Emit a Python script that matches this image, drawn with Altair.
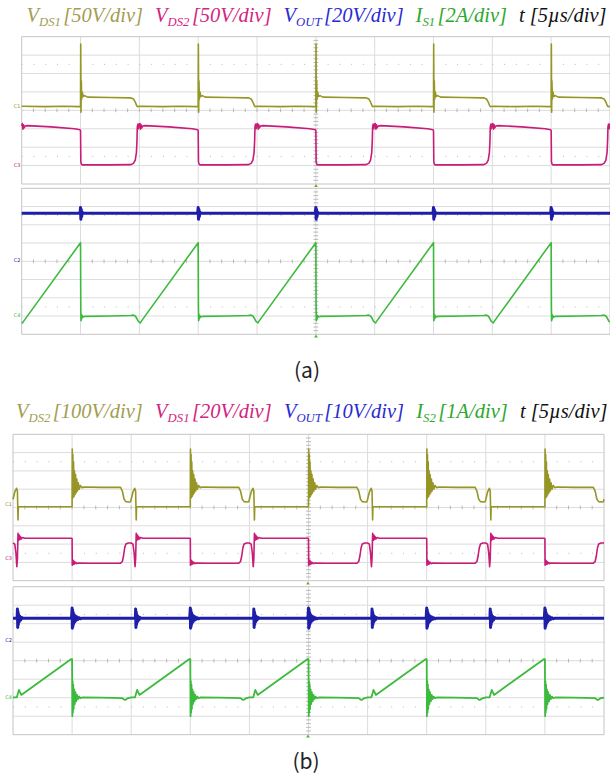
import altair as alt
import pandas as pd

W, H = 610, 781

# ---------------- colours ----------------
OLIVE = "#969626"
MAGENTA = "#c81c78"
BLUE = "#1e1ea8"
GREEN = "#3cba3c"
T_OLIVE = "#a29d52"
T_MAGENTA = "#d2257f"
T_BLUE = "#2a2ad2"
T_GREEN = "#2da82d"
T_BLACK = "#111111"
GRID = "#dcdcdc"
EDGE = "#c4c4c4"
DOTS = "#b8b8b8"

# ---------------- titles / captions ----------------
TITLE_A = [("V", "DS1", "[50V/div]", T_OLIVE), ("V", "DS2", "[50V/div]", T_MAGENTA),
           ("V", "OUT", "[20V/div]", T_BLUE), ("I", "S1", "[2A/div]", T_GREEN),
           ("t", "", "[5µs/div]", T_BLACK)]
TITLE_B = [("V", "DS2", "[100V/div]", T_OLIVE), ("V", "DS1", "[20V/div]", T_MAGENTA),
           ("V", "OUT", "[10V/div]", T_BLUE), ("I", "S2", "[1A/div]", T_GREEN),
           ("t", "", "[5µs/div]", T_BLACK)]
CAPTIONS = ["(a)", "(b)"]

# ---------------- scope grid ----------------
GRID_T = list(range(11))      # 10 time divisions (5 µs/div)
GRID_V = list(range(9))       # 8 vertical divisions
DOT_ROWS = [1.5, 6.5]

# ---------------- waveforms (divisions) ----------------
# switching instants (div) at which the upper trace rises
A_EDGES = [1, 3, 5, 7, 9]
B_EDGES = [1, 3, 5, 7, 9]

# (a) V_DS1, relative time to edge / level in div
A_VDS1_REL = [-1.0, -0.6, -0.3, -0.02, 0.0, 0.003, 0.008, 0.013, 0.02, 0.03, 0.045, 0.07, 0.12,
              0.5, 0.85, 0.9, 0.93, 0.955, 0.97, 1.0]
A_VDS1_VAL = [4.22, 4.2, 4.22, 4.2, 4.2, 7.6, 3.9, 5.6, 4.6, 5.0, 4.75, 4.8, 4.72,
              4.7, 4.68, 4.62, 4.45, 4.25, 4.2, 4.22]
# (a) V_DS2
A_VDS2_REL = [-1.0, -0.99, -0.98, -0.97, -0.96, -0.94, -0.9, -0.5, -0.1, -0.01, 0.0, 0.005, 0.015,
              0.03, 0.5, 0.85, 0.9, 0.93, 0.95, 0.96, 0.965, 0.975, 0.985, 0.995, 1.0]
A_VDS2_VAL = [3.15, 3.28, 2.98, 3.22, 3.05, 3.15, 3.17, 3.1, 3.0, 2.95, 2.9, 1.2, 1.08,
              1.04, 1.04, 1.05, 1.12, 1.3, 1.7, 2.4, 3.1, 3.25, 3.0, 3.25, 3.15]
# (a) V_OUT
A_VOUT_REL = [-1.0, -0.01, 0.0, 0.005, 0.012, 0.02, 0.03, 0.045, 1.0]
A_VOUT_VAL = [6.63, 6.63, 6.95, 6.3, 6.85, 6.45, 6.7, 6.63, 6.63]
# (a) I_S1
A_IS1_REL = [-1.0, -0.985, -0.975, 0.0, 0.004, 0.008, 0.014, 0.02, 0.03, 0.045, 0.07,
             0.5, 0.85, 0.9, 0.93, 0.96, 0.98, 1.0]
A_IS1_VAL = [0.66, 0.62, 0.68, 5.02, 1.5, 0.75, 1.1, 0.85, 1.02, 0.95, 0.98,
             1.0, 1.03, 1.05, 1.0, 0.85, 0.72, 0.66]

# (b) V_DS2
B_VDS2_REL = [-1.0, -0.97, -0.94, -0.925, -0.915, -0.91, -0.5, -0.01, 0.0, 0.003, 0.008, 0.013,
              0.018, 0.025, 0.032, 0.04, 0.048, 0.058, 0.068, 0.08, 0.092, 0.105, 0.12, 0.14,
              0.17, 0.2, 0.5, 0.82, 0.85, 0.88, 0.91, 0.97, 0.99, 1.0]
B_VDS2_VAL = [4.45, 4.85, 5.05, 4.9, 3.32, 4.04, 4.04, 4.04, 4.04, 7.2, 4.5, 6.9,
              4.55, 6.5, 4.6, 6.0, 4.7, 5.8, 4.8, 5.55, 4.9, 5.35, 5.0, 5.2,
              5.08, 5.12, 5.1, 5.1, 4.9, 4.45, 4.32, 4.3, 4.32, 4.45]
# (b) V_DS1
B_VDS1_REL = [-1.0, -0.97, -0.95, -0.935, -0.925, -0.915, -0.905, -0.895, -0.885, -0.875, -0.86,
              -0.84, -0.8, -0.3, -0.01, 0.0, 0.003, 0.008, 0.013, 0.02, 0.028, 0.036, 0.045,
              0.06, 0.08, 0.1, 0.3, 0.82, 0.85, 0.87, 0.89, 0.91, 0.95, 1.0]
B_VDS1_VAL = [2.06, 2.0, 1.5, 0.77, 1.2, 2.59, 2.2, 2.5, 2.25, 2.42, 2.28,
              2.36, 2.32, 2.32, 2.32, 2.3, 0.85, 1.15, 0.88, 1.1, 0.9, 1.05, 0.92,
              1.0, 0.93, 0.97, 0.95, 0.96, 1.05, 1.35, 1.8, 2.0, 2.06, 2.06]
# (b) V_OUT
B_VOUT_REL = [-1.0, -0.93, -0.925, -0.92, -0.915, -0.91, -0.905, -0.895, -0.885, -0.87, -0.85,
              -0.83, -0.01, 0.0, 0.004, 0.009, 0.014, 0.02, 0.027, 0.035, 0.045, 0.056, 0.07,
              0.085, 0.1, 0.12, 0.14, 0.16, 1.0]
B_VOUT_VAL = [6.29, 6.29, 6.8, 5.8, 6.65, 5.95, 6.5, 6.1, 6.4, 6.2, 6.33,
              6.29, 6.29, 6.85, 5.75, 6.75, 5.85, 6.6, 6.0, 6.5, 6.1, 6.42, 6.18,
              6.36, 6.24, 6.32, 6.27, 6.29, 6.29]
# (b) I_S2
B_IS2_REL = [-1.0, -0.935, -0.9, -0.86, -0.02, 0.0, 0.004, 0.009, 0.014, 0.02, 0.027, 0.035,
             0.045, 0.056, 0.07, 0.085, 0.1, 0.12, 0.14, 0.17, 0.5, 0.85, 0.88, 0.9, 0.94, 1.0]
B_IS2_VAL = [2.02, 2.02, 2.42, 2.15, 4.08, 4.08, 1.0, 2.9, 1.2, 2.7, 1.4, 2.45,
             1.65, 2.3, 1.8, 2.15, 1.92, 2.06, 1.98, 2.01, 2.0, 1.98, 1.9, 1.88, 1.97, 2.0]

# ---------------- layout (pixels) ----------------
A_X = (21.7, 610.0)
B_X = (13.0, 604.0)
A_TOP = (36.7, 184.0)
A_BOT = (188.3, 334.3)
B_TOP = (434.3, 580.7)
B_BOT = (586.7, 734.7)

SERIF = "Liberation Serif, Times New Roman, DejaVu Serif, serif"


def xscale(px):
    x0, x1 = px
    span = 10 * W / (x1 - x0)
    lo = -span * x0 / W
    return alt.Scale(domain=[lo, lo + span], nice=False, zero=False)


def yscale(py):
    top, bot = py
    span = 8 * H / (bot - top)
    lo = -span * (H - bot) / H
    return alt.Scale(domain=[lo, lo + span], nice=False, zero=False)


def grid_layers(px, py):
    xs, ys = xscale(px), yscale(py)
    divpx = (px[1] - px[0]) / 10

    def X(f):
        return alt.X(f, scale=xs, axis=None)

    def Y(f):
        return alt.Y(f, scale=ys, axis=None)

    inner_t = [t for t in GRID_T if 0 < t < 10]
    inner_v = [v for v in GRID_V if 0 < v < 8]
    out = []
    out.append(alt.Chart(pd.DataFrame({"t": inner_t, "a": 0, "b": 8})).mark_rule(
        color=GRID, strokeWidth=1).encode(x=X("t:Q"), y=Y("a:Q"), y2="b:Q"))
    out.append(alt.Chart(pd.DataFrame({"v": inner_v, "a": 0, "b": 10})).mark_rule(
        color=GRID, strokeWidth=1).encode(y=Y("v:Q"), x=X("a:Q"), x2="b:Q"))
    out.append(alt.Chart(pd.DataFrame({"v": DOT_ROWS, "a": 0, "b": 10})).mark_rule(
        color=DOTS, strokeWidth=1, strokeDash=[1, 0.2 * divpx - 1]).encode(
        y=Y("v:Q"), x=X("a:Q"), x2="b:Q"))
    ht = [round(i * 0.2, 2) for i in range(1, 50)]
    out.append(alt.Chart(pd.DataFrame({"t": ht, "a": 3.9, "b": 4.1})).mark_rule(
        color=DOTS, strokeWidth=1).encode(x=X("t:Q"), y=Y("a:Q"), y2="b:Q"))
    vt = [round(i * 0.2, 2) for i in range(1, 40)]
    out.append(alt.Chart(pd.DataFrame({"v": vt, "a": 4.96, "b": 5.04})).mark_rule(
        color=DOTS, strokeWidth=1).encode(y=Y("v:Q"), x=X("a:Q"), x2="b:Q"))
    out.append(alt.Chart(pd.DataFrame({"t": [0, 10], "a": 0, "b": 8})).mark_rule(
        color=EDGE, strokeWidth=1).encode(x=X("t:Q"), y=Y("a:Q"), y2="b:Q"))
    out.append(alt.Chart(pd.DataFrame({"v": [0, 8], "a": 0, "b": 10})).mark_rule(
        color=EDGE, strokeWidth=1).encode(y=Y("v:Q"), x=X("a:Q"), x2="b:Q"))
    return out


def build(edges, rel, val):
    rows = []
    for k, e in enumerate(edges):
        for r, v in zip(rel, val):
            if r >= 1.0 and k < len(edges) - 1:
                continue
            rows.append({"t": e + r, "v": v})
    df = pd.DataFrame(rows)
    df["i"] = range(len(df))
    return df


def trace(px, py, edges, rel, val, color, sw):
    return alt.Chart(build(edges, rel, val)).mark_line(
        color=color, strokeWidth=sw, strokeJoin="round").encode(
        x=alt.X("t:Q", scale=xscale(px), axis=None),
        y=alt.Y("v:Q", scale=yscale(py), axis=None),
        order=alt.Order("i:Q"))


# ---------------- text ----------------
TW = {' ': 250, '[': 389, ']': 389, '/': 278, '0': 500, '1': 500, '2': 500, '5': 500,
      'A': 611, 'D': 722, 'I': 333, 'O': 722, 'S': 500, 'T': 556, 'U': 722, 'V': 611,
      'd': 500, 'i': 278, 's': 389, 't': 278, 'v': 444, 'µ': 500}


def tw(s, f):
    return sum(TW[c] for c in s) * f / 1000.0


def title_rows(pieces, x_start, x_end, base, F):
    fs = F * 0.62
    widths = []
    for main, sub, br, col in pieces:
        w = tw(main, F) + ((tw(sub, fs) + 0.12 * F) if sub else 0.25 * F) + tw(br, F)
        widths.append(w)
    gap = (x_end - x_start - sum(widths)) / (len(pieces) - 1)
    rows = []
    x = x_start
    for (main, sub, br, col), w in zip(pieces, widths):
        rows.append(dict(px=x, py=base, text=main, color=col, size=F))
        xx = x + tw(main, F)
        if sub:
            rows.append(dict(px=xx, py=base + 4.3, text=sub, color=col, size=fs))
            xx += tw(sub, fs) + 0.12 * F
        else:
            xx += 0.25 * F
        rows.append(dict(px=xx, py=base, text=br, color=col, size=F))
        x += w + gap
    return rows


PXS = alt.Scale(domain=[0, W], nice=False, zero=False)
PYS = alt.Scale(domain=[0, H], reverse=True, nice=False, zero=False)

title_df = pd.DataFrame(title_rows(TITLE_A, 26.5, 605, 21.5, 20.5) +
                        title_rows(TITLE_B, 16, 606, 418, 20.5))
titles = alt.Chart(title_df).mark_text(
    font=SERIF, fontStyle="italic", align="left", baseline="alphabetic").encode(
    x=alt.X("px:Q", scale=PXS, axis=None), y=alt.Y("py:Q", scale=PYS, axis=None),
    text="text:N", color=alt.Color("color:N", scale=None), size=alt.Size("size:Q", scale=None))

cap_df = pd.DataFrame({"px": [307, 306], "py": [372, 763], "text": CAPTIONS})
captions = alt.Chart(cap_df).mark_text(
    font="Noto Sans CJK JP", fontSize=21, align="center", baseline="middle", color="#222222").encode(
    x=alt.X("px:Q", scale=PXS, axis=None), y=alt.Y("py:Q", scale=PYS, axis=None), text="text:N")

ch_df = pd.DataFrame({
    "px": [17, 17, 17, 17, 8.5, 8.5, 8.5, 8.5],
    "py": [106, 165, 260, 315, 504, 558, 640, 697],
    "text": ["C1", "C3", "C2", "C4", "C1", "C3", "C2", "C4"],
    "color": [OLIVE, MAGENTA, BLUE, GREEN, OLIVE, MAGENTA, BLUE, GREEN]})
chans = alt.Chart(ch_df).mark_text(fontSize=5, align="center", baseline="middle", font="DejaVu Sans").encode(
    x=alt.X("px:Q", scale=PXS, axis=None), y=alt.Y("py:Q", scale=PYS, axis=None),
    text="text:N", color=alt.Color("color:N", scale=None))

trig_df = pd.DataFrame({"px": [316, 316, 308, 308], "py": [185.5, 336, 583, 736],
                        "color": [OLIVE, GREEN, OLIVE, GREEN]})
trig = alt.Chart(trig_df).mark_point(shape="triangle-up", filled=True, size=14, opacity=1).encode(
    x=alt.X("px:Q", scale=PXS, axis=None), y=alt.Y("py:Q", scale=PYS, axis=None),
    color=alt.Color("color:N", scale=None))

layers = []
layers += grid_layers(A_X, A_TOP)
layers += grid_layers(A_X, A_BOT)
layers += grid_layers(B_X, B_TOP)
layers += grid_layers(B_X, B_BOT)
layers += [
    trace(A_X, A_TOP, A_EDGES, A_VDS2_REL, A_VDS2_VAL, MAGENTA, 1.6),
    trace(A_X, A_TOP, A_EDGES, A_VDS1_REL, A_VDS1_VAL, OLIVE, 1.6),
    trace(A_X, A_BOT, A_EDGES, A_VOUT_REL, A_VOUT_VAL, BLUE, 3.0),
    trace(A_X, A_BOT, A_EDGES, A_IS1_REL, A_IS1_VAL, GREEN, 1.6),
    trace(B_X, B_TOP, B_EDGES, B_VDS1_REL, B_VDS1_VAL, MAGENTA, 1.6),
    trace(B_X, B_TOP, B_EDGES, B_VDS2_REL, B_VDS2_VAL, OLIVE, 1.6),
    trace(B_X, B_BOT, B_EDGES, B_VOUT_REL, B_VOUT_VAL, BLUE, 3.0),
    trace(B_X, B_BOT, B_EDGES, B_IS2_REL, B_IS2_VAL, GREEN, 1.8),
]
layers += [titles, captions, chans, trig]

chart = alt.layer(*layers).resolve_scale(x="independent", y="independent").properties(
    width=W, height=H, padding=0, autosize=alt.AutoSizeParams(type="none"),
    background="white").configure_view(strokeWidth=0)

chart.save("out.html", embed_options={"renderer": "svg", "actions": False})
